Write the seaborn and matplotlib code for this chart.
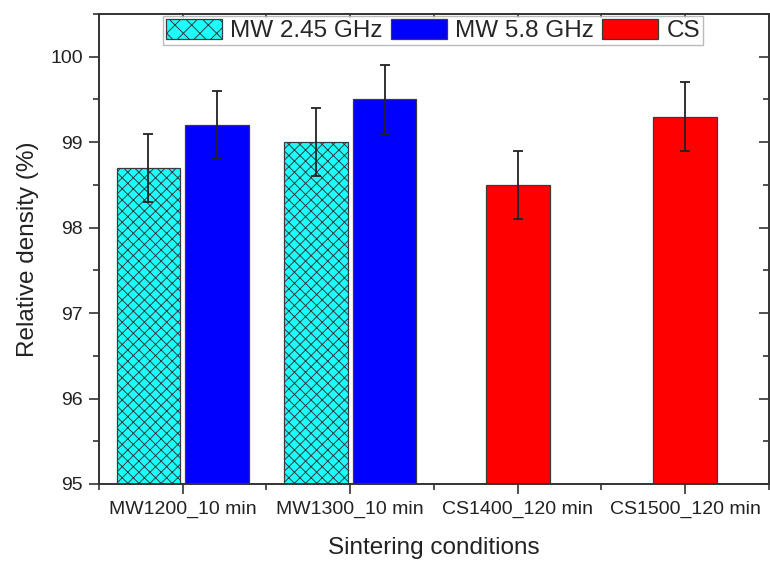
import matplotlib
matplotlib.use("Agg")
import matplotlib.pyplot as plt
from matplotlib.ticker import MultipleLocator
import seaborn as sns
import pandas as pd

categories = ["MW1200_10 min", "MW1300_10 min", "CS1400_120 min", "CS1500_120 min"]
mw245_vals = [98.7, 99.0]
mw245_err = [0.4, 0.4]
mw58_vals = [99.2, 99.5]
mw58_err = [0.4, 0.4]
cs_vals = [98.5, 99.3]
cs_err = [0.4, 0.4]
series = ["MW 2.45 GHz", "MW 5.8 GHz", "CS"]
colors = {"MW 2.45 GHz": "#1CFFFF", "MW 5.8 GHz": "#0000FF", "CS": "#FF0000"}

mw_df = pd.DataFrame({
    "cond": categories[:2] * 2,
    "val": mw245_vals + mw58_vals,
    "series": [series[0]] * 2 + [series[1]] * 2,
})
cs_df = pd.DataFrame({"cond": categories[2:], "val": cs_vals, "series": [series[2]] * 2})

sns.set_style("ticks")
plt.rcParams["font.family"] = ["Liberation Sans", "DejaVu Sans"]
plt.rcParams["hatch.linewidth"] = 0.7
plt.rcParams["hatch.color"] = "#2F6F6F"

fig = plt.figure(figsize=(7.7, 5.61), dpi=100)
ax = fig.add_axes([0.1286, 0.1373, 0.870, 0.8378])

sns.barplot(data=mw_df, x="cond", y="val", hue="series", order=categories,
            hue_order=series[:2], palette=colors, width=0.82, gap=0.075, saturation=1,
            errorbar=None, edgecolor="#3A3A3A", linewidth=0.9, ax=ax)
sns.barplot(data=cs_df, x="cond", y="val", hue="series", order=categories,
            hue_order=[series[2]], palette=colors, width=0.38, dodge=False, saturation=1,
            errorbar=None, edgecolor="#3A3A3A", linewidth=0.9, ax=ax, legend=True)

err_lists = [mw245_err, mw58_err, cs_err]
for ci, cont in enumerate(ax.containers[:3]):
    bars = [b for b in cont.patches if b.get_height() == b.get_height() and b.get_height() > 0]
    if ci == 0:
        for b in bars:
            b.set_hatch("xxx")
    for b, e in zip(bars, err_lists[ci]):
        ax.errorbar(b.get_x() + b.get_width() / 2, b.get_height(), yerr=e,
                    fmt="none", ecolor="#222222", elinewidth=1.3, capsize=3.5,
                    capthick=1.3, zorder=5)

ax.set_xlim(-0.5, 3.5)
ax.set_ylim(95, 100.5)
ax.yaxis.set_major_locator(MultipleLocator(1))
ax.yaxis.set_minor_locator(MultipleLocator(0.5))
ax.xaxis.set_minor_locator(MultipleLocator(0.5))

ax.tick_params(axis="both", which="major", direction="out", length=7, width=1.2,
               color="#333333", labelsize=14, labelcolor="#222222")
ax.tick_params(axis="y", which="major", pad=4.5)
ax.tick_params(axis="x", which="major", pad=5)
ax.tick_params(axis="both", which="minor", direction="out", length=4, width=1.2, color="#333333")
sec_y = ax.secondary_yaxis("right")
sec_y.yaxis.set_major_locator(MultipleLocator(1))
sec_y.yaxis.set_minor_locator(MultipleLocator(0.5))
sec_y.tick_params(which="major", direction="in", length=7, width=1.2, color="#333333", labelright=False)
sec_y.tick_params(which="minor", direction="in", length=4, width=1.2, color="#333333")
sec_y.spines["right"].set_visible(False)
sec_x = ax.secondary_xaxis("top")
sec_x.xaxis.set_major_locator(MultipleLocator(1))
sec_x.xaxis.set_minor_locator(MultipleLocator(0.5))
sec_x.tick_params(which="major", direction="in", length=3, width=1.2, color="#333333", labeltop=False)
sec_x.tick_params(which="minor", direction="in", length=3, width=1.2, color="#333333")
sec_x.spines["top"].set_visible(False)

for s in ax.spines.values():
    s.set_visible(True)
    s.set_color("#333333")
    s.set_linewidth(1.4)

ax.set_xlabel("Sintering conditions", fontsize=17.5, color="#222222", labelpad=14)
ax.set_ylabel("Relative density (%)", fontsize=17.5, color="#222222", labelpad=8)

handles, labels = ax.get_legend_handles_labels()
order = [labels.index(s) for s in series]
leg = ax.legend([handles[i] for i in order], [labels[i] for i in order], ncol=3,
                loc="upper center", bbox_to_anchor=(0.4985, 0.9964), fontsize=17.5,
                frameon=True, fancybox=False, edgecolor="#AAAAAA",
                handlelength=2.3, handleheight=0.9, columnspacing=0.34,
                handletextpad=0.34, borderpad=0.12, borderaxespad=0.0)
leg.get_frame().set_linewidth(1.0)
leg.legend_handles[0].set_hatch("xx")
leg.set_zorder(10)

fig.savefig("out.png", dpi=100)
